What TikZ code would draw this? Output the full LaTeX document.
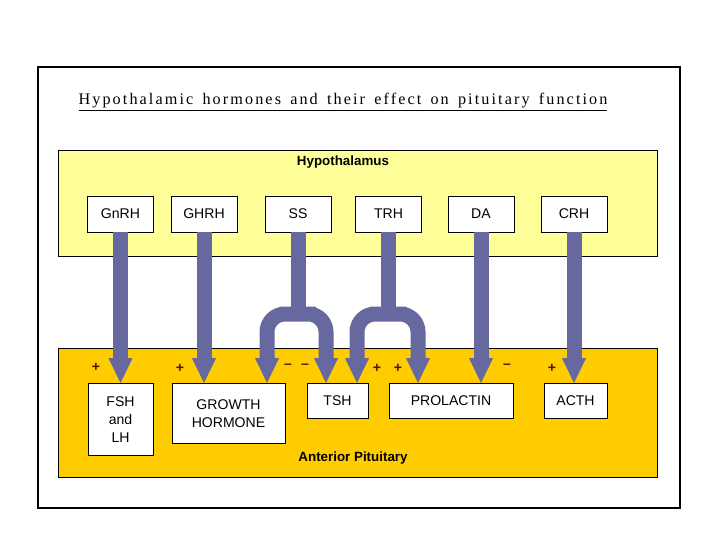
\documentclass[tikz,border=0pt]{standalone}
\usepackage{fontspec}
\setmainfont{Liberation Sans}
\newfontfamily\titlefont[LetterSpace=13,WordSpace=1.5]{Liberation Serif}
\usetikzlibrary{arrows.meta, positioning}
\definecolor{hypoyellow}{RGB}{255,255,153}
\definecolor{pitgold}{RGB}{255,204,0}
\definecolor{arrowblue}{RGB}{104,104,160}
\definecolor{signbrown}{RGB}{70,25,0}
\tikzstyle{region} = [draw=black, line width=0.6pt]
\tikzstyle{hormone} = [draw=black, fill=white, line width=0.6pt, minimum width=1.65cm, minimum height=0.9cm, inner sep=1pt, font=\fontsize{10}{13}\selectfont, align=center]
\tikzstyle{regionlabel} = [font=\fontsize{9.5}{11}\selectfont\bfseries]
\tikzstyle{stem} = [draw=arrowblue, line width=0.375cm]
\tikzstyle{fatarrow} = [stem, -{Triangle[width=0.6cm, length=0.62cm, line width=0pt]}]
\tikzstyle{forkarrow} = [stem, {Triangle[width=0.6cm, length=0.62cm, line width=0pt]}-{Triangle[width=0.6cm, length=0.62cm, line width=0pt]}, rounded corners=0.45cm]
\tikzstyle{sign} = [text=signbrown, font=\fontsize{10}{10}\selectfont\bfseries, inner sep=0pt]

\begin{document}
\begin{tikzpicture}[x=0.025cm, y=-0.025cm]
	\useasboundingbox (0,0) rectangle (720,540);
	\draw[line width=2pt] (38,67) rectangle (680,508);
	\node (title) at (343,102) {\titlefont\fontsize{11.5}{13}\selectfont\underline{Hypothalamic hormones and their effect on pituitary function}};
	\draw[region, fill=hypoyellow] (58,150) rectangle (657,256);
	\draw[region, fill=pitgold] (58,348) rectangle (657,477);
	\node[regionlabel] (hypo) at (343,162) {Hypothalamus};
	\node[regionlabel] (pit) at (353,458) {Anterior Pituitary};
	\node[hormone] (gnrh) at (120.5,214) {GnRH};
	\node[hormone] (ghrh) at (204,214) {GHRH};
	\node[hormone] (ss) at (298,214) {SS};
	\node[hormone] (trh) at (388.5,214) {TRH};
	\node[hormone] (da) at (481,214) {DA};
	\node[hormone] (crh) at (574,214) {CRH};
	\node[hormone, anchor=north, minimum width=1.625cm, minimum height=1.8cm] (fsh) at (120.5,383) {FSH\\and\\LH};
	\node[hormone, anchor=north, minimum width=2.825cm, minimum height=1.5cm] (gh) at (228.5,383) {GROWTH\\HORMONE};
	\node[hormone, anchor=north, minimum width=1.525cm, minimum height=0.875cm] (tsh) at (337.5,383) {TSH};
	\node[hormone, anchor=north, minimum width=3.1cm, minimum height=0.875cm] (prl) at (451,383) {PROLACTIN};
	\node[hormone, anchor=north, minimum width=1.575cm, minimum height=0.875cm] (acth) at (575.5,383) {ACTH};
	\coordinate (ssfork) at (ss.south |- 0,314);
	\coordinate (trhfork) at (trh.south |- 0,314);
	\draw[fatarrow] (gnrh.south) -- (fsh.north);
	\draw[fatarrow] (ghrh.south) -- (ghrh.south |- gh.north);
	\draw[stem] (ss.south) -- (ssfork);
	\draw[forkarrow] (gh.north -| 267,0) |- (ssfork) -| (tsh.north -| 326,0);
	\draw[stem] (trh.south) -- (trhfork);
	\draw[forkarrow] (tsh.north -| 357,0) |- (trhfork) -| (prl.north -| 418,0);
	\draw[fatarrow] (da.south) -- (da.south |- prl.north);
	\draw[fatarrow] (crh.south) -- (crh.south |- acth.north);
	\node[sign] (gnrhsign) at (96,367) {+};
	\node[sign] (ghrhsign) at (180,368) {+};
	\node[sign] (ssgh) at (288,366) {\textendash};
	\node[sign] (sstsh) at (305,366) {\textendash};
	\node[sign] (trhtsh) at (377,368) {+};
	\node[sign] (trhprl) at (398,368) {+};
	\node[sign] (dasign) at (507,366) {\textendash};
	\node[sign] (crhsign) at (552,368) {+};
\end{tikzpicture}
\end{document}
